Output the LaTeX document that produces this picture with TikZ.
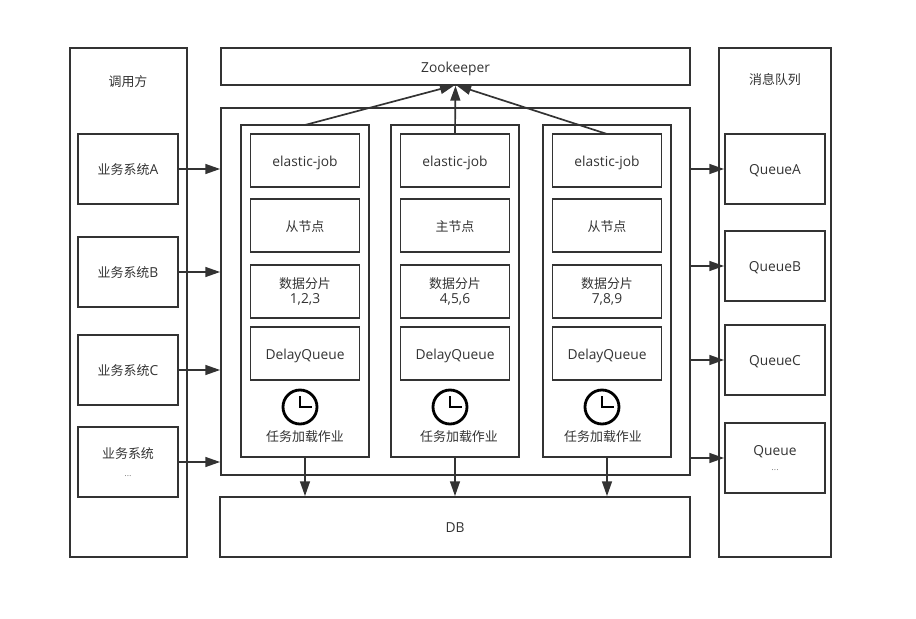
\documentclass[tikz,border=0pt]{standalone}
\usepackage{fontspec}
\setmainfont{Open Sans}
\newfontfamily\cjk[Scale=0.94]{Noto Sans CJK SC}
\usepackage{tikz}
\usetikzlibrary{arrows.meta,calc}
\definecolor{ink}{HTML}{333333}
\newcommand{\sz}{\fontsize{9.8}{11}\selectfont}
\newcommand{\more}{{\tiny .\kern.4pt.\kern.4pt.}}
\tikzset{>={Triangle[length=10.5pt,width=7pt]},every node/.style={font=\sz,text=ink},
size/.style 2 args={minimum width=#1*.025cm,minimum height=#2*.025cm},
box/.style={draw=ink,line width=1.2pt,inner sep=0pt,outer sep=0pt},
oneline/.style={box,text height=10.5pt,text depth=2.5pt},
flow/.style={draw=ink,line width=1.2pt,->,shorten >=.6pt},
clock/.style={circle,draw=black,line width=2pt,inner sep=0pt,outer sep=0pt,minimum size=.85cm}}
\begin{document}
\begin{tikzpicture}[x=.025cm,y=-.025cm]
\useasboundingbox (0,0) rectangle (916,619);
\node[box,size={117}{509}] (caller) at (128.5,302.5) {};
\node[box,size={112}{509}] (mq) at (775,302.5) {};
\node[oneline,size={469}{37}] (zk) at (455.5,66.5) {Zookeeper};
\node[box,size={469}{367}] (core) at (455.5,291.5) {};
\node[oneline,size={470}{60}] (db) at (455,527) {DB};
\node (callertitle) at (128,82) {\cjk 调用方};
\node (mqtitle) at (775,80) {\cjk 消息队列};
\node[oneline,size={100}{70}] (sysA) at (128,169) {{\cjk 业务系统}A};
\node[oneline,size={100}{70}] (sysB) at (128,272) {{\cjk 业务系统}B};
\node[oneline,size={100}{70}] (sysC) at (128,370) {{\cjk 业务系统}C};
\node[box,size={100}{70},align=center] (sysD) at (128,462) {{\cjk 业务系统}\\[2pt]\more};
\node[oneline,size={100}{70}] (qA) at (775,169) {QueueA};
\node[oneline,size={100}{70}] (qB) at (775,266) {QueueB};
\node[oneline,size={100}{70}] (qC) at (775,360) {QueueC};
\node[box,size={100}{70},align=center] (qD) at (775,458) {Queue\\[0pt]\more};
\foreach \i/\x/\lx/\role/\shards in {1/305/305/从节点/{1,2,3},2/455/459/主节点/{4,5,6},3/607/603/从节点/{7,8,9}}{
\node[box,size={128}{332}] (col\i) at (\x,291) {};
\node[oneline,size={109}{53}] (job\i) at (\x,160.5) {elastic-job};
\node[oneline,size={109}{53}] (role\i) at (\x,225.5) {\cjk \role};
\node[box,size={109}{53},align=center] (shard\i) at (\x,291.5) {{\cjk 数据分片}\\\shards};
\node[oneline,size={109}{53}] (dq\i) at (\x,353.5) {DelayQueue};
\node[clock] (clock\i) at (\x-5,407) {};
\draw[black,line width=1.6pt] ($(clock\i.center)+(0,-11)$)--(clock\i.center)--+(12,0);
\node (load\i) at (\lx,437) {\cjk 任务加载作业};
\draw[flow] (col\i.south)--(col\i.south |- db.north);
}
\draw[flow] (col1.north)--(zk.south);
\draw[flow] (job2.north)--(zk.south);
\draw[flow] (job3.north)--(zk.south);
\foreach \s in {sysA,sysB,sysC,sysD}{\draw[flow] (\s.east)--(\s.east -| core.west);}
\foreach \q in {qA,qB,qC,qD}{\draw[flow] (\q.west -| core.east)--(\q.west);}
\end{tikzpicture}
\end{document}
